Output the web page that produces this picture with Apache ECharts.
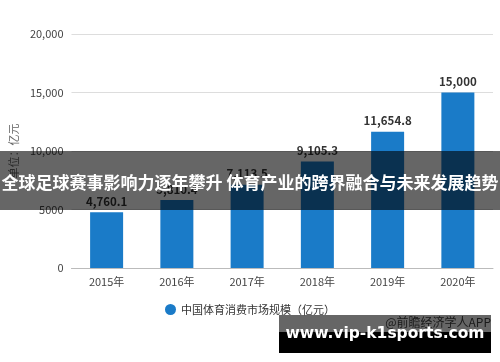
<!DOCTYPE html>
<html><head><meta charset="utf-8">
<script src="https://cdn.jsdelivr.net/npm/echarts@6/dist/echarts.min.js"></script>
<style>html,body{margin:0;padding:0;background:#fff}#c{width:500px;height:362px}</style>
</head><body><div id="c"></div>
<script>
var categories = ["2015年","2016年","2017年","2018年","2019年","2020年"];
var values = [4760.1, 5810.4, 7113.5, 9105.3, 11654.8, 15000];
var yTickLabels = {"0":"0","5000":"5000","10000":"10,000","15000":"15,000","20000":"20,000"};
var seriesName = "中国体育消费市场规模（亿元）";
var yAxisName = "单位：亿元";
var overlayTitle = "全球足球赛事影响力逐年攀升 体育产业的跨界融合与未来发展趋势";
var siteText = "www.vip-k1sports.com";
var sourceText = "@前瞻经济学人APP";

function fmt(v){
  var s = String(v).split(".");
  s[0] = s[0].replace(/\B(?=(\d{3})+(?!\d))/g, ",");
  return s.join(".");
}
var font = "'Noto Sans CJK SC','Noto Sans',sans-serif";
var chart = echarts.init(document.getElementById('c'));
chart.setOption({
  animation:false,
  textStyle:{fontFamily:font},
  grid:{left:68,right:7,top:34,bottom:94},
  legend:{
    data:[{name:seriesName,icon:'circle'}],
    bottom:42,left:'center',itemWidth:11,itemHeight:11,itemGap:6,
    textStyle:{color:'#333',fontSize:11,fontFamily:font}
  },
  xAxis:{
    type:'category',data:categories,
    axisLine:{lineStyle:{color:'#bbb'}},
    axisTick:{alignWithLabel:true,length:5,lineStyle:{color:'#bbb'}},
    axisLabel:{color:'#444',fontSize:11,margin:8,fontFamily:font}
  },
  yAxis:{
    type:'value',min:0,max:20000,interval:5000,
    name:yAxisName,nameLocation:'middle',nameRotate:90,nameGap:50,
    nameTextStyle:{color:'#666',fontSize:11,fontFamily:font},
    axisLine:{show:false},axisTick:{show:false},
    axisLabel:{color:'#444',fontSize:11,margin:8,formatter:function(v){return yTickLabels[String(v)];}},
    splitLine:{lineStyle:{color:'#ddd'}}
  },
  series:[{
    name:seriesName,type:'bar',data:values,barWidth:33,
    itemStyle:{color:'#1a7bc8'},
    label:{show:true,position:'top',color:'#333',fontWeight:'bold',fontSize:11.5,distance:5,
      formatter:function(p){return fmt(p.value);}}
  }],
  graphic:[
    {type:'rect',left:0,top:151,z:100,shape:{width:500,height:59},style:{fill:'rgba(0,0,0,0.6)'}},
    {type:'text',left:'center',top:174,z:101,style:{text:overlayTitle,fill:'#fff',font:'bold 17px '+font}},
    {type:'text',right:9,top:316,z:99,style:{text:sourceText,fill:'#444',font:'12px '+font}},
    {type:'rect',left:279,top:315,z:100,shape:{width:212,height:17},style:{fill:'rgba(0,0,0,0.6)'}},
    {type:'rect',left:279,top:332,z:100,shape:{width:212,height:21},style:{fill:'#000'}},
    {type:'text',x:385,y:334,z:101,style:{text:siteText,fill:'#fff',align:'center',verticalAlign:'middle',font:'bold 15.5px "DejaVu Sans",sans-serif'}}
  ]
});
</script></body></html>
